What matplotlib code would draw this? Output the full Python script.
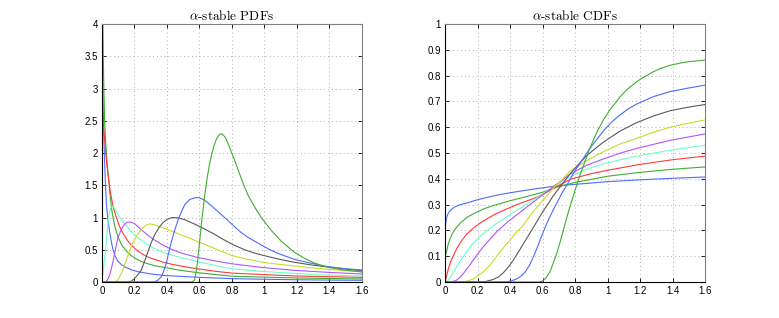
import matplotlib
matplotlib.use("Agg")
import matplotlib.pyplot as plt
from matplotlib.ticker import FuncFormatter

# curve colours, in order of increasing alpha
colors = ["#4f6bff", "#3fae2f", "#ff3a3a", "#6affc8", "#b255ff",
          "#c8dc2a", "#5a5a5a", "#4f6bff", "#3fae2f"]

# ---- PDF values ----
pdf_x1 = [0.002, 0.006, 0.01, 0.015, 0.02, 0.027, 0.035, 0.047, 0.058, 0.068, 0.08, 0.098,
          0.12, 0.14, 0.18, 0.22, 0.3, 0.39, 0.5, 0.6, 0.8, 1.0, 1.2, 1.4, 1.6]
pdf_y1 = [3.4, 2.9, 2.4, 1.95, 1.6, 1.22, 1.0, 0.78, 0.62, 0.5, 0.41, 0.32,
          0.27, 0.235, 0.19, 0.16, 0.125, 0.1, 0.085, 0.072, 0.052, 0.042, 0.035, 0.03, 0.026]

pdf_x2 = [0.004, 0.008, 0.012, 0.0164, 0.022, 0.027, 0.034, 0.041, 0.05, 0.06, 0.07, 0.08,
          0.1, 0.12, 0.15, 0.18, 0.21, 0.24, 0.28, 0.32, 0.386, 0.45, 0.5, 0.59, 0.7, 0.8,
          1.0, 1.2, 1.4, 1.6]
pdf_y2 = [4.3, 3.5, 2.95, 2.5, 2.2, 2.0, 1.78, 1.6, 1.35, 1.12, 0.97, 0.85,
          0.69, 0.58, 0.48, 0.41, 0.36, 0.32, 0.285, 0.255, 0.225, 0.195, 0.175, 0.145, 0.115, 0.09,
          0.075, 0.063, 0.054, 0.047]

pdf_x3 = [0.0, 0.01, 0.02, 0.03, 0.045, 0.057, 0.07, 0.088, 0.105, 0.129, 0.155, 0.18, 0.21,
          0.242, 0.28, 0.324, 0.38, 0.43, 0.5, 0.59, 0.7, 0.8, 1.0, 1.2, 1.4, 1.6]
pdf_y3 = [2.6, 2.4, 2.1, 1.82, 1.5, 1.32, 1.15, 1.01, 0.88, 0.755, 0.65, 0.574, 0.5,
          0.444, 0.39, 0.35, 0.305, 0.275, 0.24, 0.205, 0.165, 0.138, 0.114, 0.093, 0.082, 0.072]

pdf_x4 = [0.0, 0.006, 0.012, 0.02, 0.028, 0.037, 0.045, 0.057, 0.07, 0.085, 0.098, 0.12, 0.14,
          0.16, 0.18, 0.21, 0.242, 0.28, 0.324, 0.37, 0.427, 0.5, 0.59, 0.7, 0.8, 0.98,
          1.185, 1.39, 1.6]
pdf_y4 = [0.0, 0.134, 0.28, 0.44, 0.67, 0.91, 1.07, 1.17, 1.17, 1.11, 1.05, 0.97, 0.9,
          0.84, 0.78, 0.71, 0.65, 0.58, 0.52, 0.465, 0.42, 0.37, 0.315, 0.255, 0.205, 0.165,
          0.134, 0.108, 0.093]

pdf_x5 = [0.0, 0.02, 0.03, 0.04, 0.05, 0.057, 0.068, 0.078, 0.088, 0.098, 0.113, 0.129, 0.145,
          0.16, 0.18, 0.2, 0.22, 0.242, 0.28, 0.324, 0.37, 0.427, 0.5, 0.59, 0.7, 0.806,
          0.98, 1.185, 1.39, 1.6]
pdf_y5 = [0.0, 0.0, 0.02, 0.06, 0.13, 0.2, 0.32, 0.44, 0.57, 0.68, 0.78, 0.86, 0.91,
          0.93, 0.925, 0.905, 0.86, 0.81, 0.73, 0.65, 0.58, 0.506, 0.44, 0.38, 0.325, 0.28,
          0.227, 0.18, 0.15, 0.124]

pdf_x6 = [0.0, 0.08, 0.1, 0.119, 0.135, 0.15, 0.165, 0.18, 0.195, 0.211, 0.226, 0.242, 0.26,
          0.283, 0.3, 0.324, 0.355, 0.386, 0.44, 0.488, 0.54, 0.59, 0.64, 0.693, 0.75, 0.806,
          0.9, 0.98, 1.083, 1.185, 1.288, 1.39, 1.5, 1.6]
pdf_y6 = [0.0, 0.0, 0.04, 0.134, 0.24, 0.34, 0.45, 0.55, 0.63, 0.7, 0.76, 0.81, 0.86,
          0.895, 0.9, 0.885, 0.86, 0.83, 0.78, 0.73, 0.68, 0.625, 0.575, 0.52, 0.46, 0.405,
          0.35, 0.31, 0.275, 0.248, 0.22, 0.196, 0.176, 0.16]

pdf_x7 = [0.0, 0.16, 0.18, 0.2, 0.22, 0.242, 0.262, 0.283, 0.303, 0.324, 0.35, 0.375, 0.4,
          0.43, 0.47, 0.51, 0.55, 0.59, 0.64, 0.693, 0.75, 0.806, 0.878, 0.93, 0.98, 1.083,
          1.185, 1.288, 1.39, 1.5, 1.6]
pdf_y7 = [0.0, 0.0, 0.01, 0.057, 0.11, 0.186, 0.32, 0.47, 0.61, 0.73, 0.84, 0.92, 0.97,
          1.0, 0.995, 0.965, 0.92, 0.875, 0.81, 0.74, 0.655, 0.58, 0.5, 0.455, 0.42, 0.357,
          0.305, 0.265, 0.233, 0.2, 0.176]

pdf_x8 = [0.0, 0.32, 0.34, 0.365, 0.38, 0.396, 0.41, 0.427, 0.447, 0.468, 0.49, 0.51, 0.54,
          0.578, 0.6, 0.63, 0.67, 0.71, 0.755, 0.806, 0.85, 0.9, 0.98, 1.03, 1.083, 1.185,
          1.288, 1.39, 1.5, 1.6]
pdf_y8 = [0.0, 0.0, 0.02, 0.08, 0.17, 0.29, 0.45, 0.625, 0.8, 0.96, 1.1, 1.2, 1.28,
          1.31, 1.305, 1.27, 1.19, 1.1, 1.0, 0.88, 0.78, 0.69, 0.574, 0.505, 0.444, 0.35,
          0.29, 0.238, 0.205, 0.186]

pdf_x9 = [0.0, 0.555, 0.57, 0.585, 0.6, 0.615, 0.63, 0.645, 0.66, 0.675, 0.69, 0.705, 0.72,
          0.737, 0.76, 0.788, 0.82, 0.849, 0.875, 0.9, 0.94, 0.98, 1.042, 1.104, 1.185, 1.24,
          1.288, 1.34, 1.39, 1.49, 1.6]
pdf_y9 = [0.0, 0.0, 0.03, 0.25, 0.6, 0.98, 1.3, 1.58, 1.8, 1.98, 2.12, 2.22, 2.28,
          2.3, 2.24, 2.07, 1.86, 1.66, 1.49, 1.34, 1.16, 1.0, 0.8, 0.63, 0.46, 0.375,
          0.315, 0.265, 0.227, 0.186, 0.155]

# ---- CDF values ----
cdf_x1 = [0.003, 0.008, 0.015, 0.025, 0.04, 0.06, 0.09, 0.133, 0.195, 0.27, 0.338, 0.44,
          0.544, 0.646, 0.75, 0.85, 1.0, 1.2, 1.4, 1.6]
cdf_y1 = [0.221, 0.245, 0.26, 0.272, 0.282, 0.291, 0.299, 0.306, 0.318, 0.33, 0.339, 0.35,
          0.36, 0.369, 0.376, 0.381, 0.389, 0.396, 0.402, 0.407]

cdf_x2 = [0.003, 0.01, 0.02, 0.031, 0.045, 0.06, 0.08, 0.1, 0.133, 0.18, 0.236, 0.3, 0.4,
          0.5, 0.6, 0.68, 0.8, 0.9, 1.0, 1.2, 1.4, 1.6]
cdf_y2 = [0.1, 0.12, 0.148, 0.168, 0.188, 0.203, 0.219, 0.232, 0.25, 0.266, 0.283, 0.297, 0.315,
          0.331, 0.348, 0.366, 0.386, 0.398, 0.41, 0.425, 0.437, 0.446]

cdf_x3 = [0.0, 0.005, 0.01, 0.02, 0.035, 0.05, 0.072, 0.1, 0.133, 0.17, 0.215, 0.26, 0.318,
          0.38, 0.441, 0.52, 0.6, 0.68, 0.77, 0.9, 1.0, 1.2, 1.4, 1.6]
cdf_y3 = [0.0, 0.012, 0.025, 0.05, 0.08, 0.1, 0.13, 0.158, 0.185, 0.207, 0.228, 0.246, 0.266,
          0.283, 0.3, 0.318, 0.338, 0.368, 0.398, 0.42, 0.433, 0.456, 0.474, 0.488]

cdf_x4 = [0.0, 0.01, 0.02, 0.035, 0.051, 0.07, 0.092, 0.133, 0.17, 0.215, 0.26, 0.318, 0.38,
          0.441, 0.51, 0.585, 0.667, 0.769, 0.87, 0.974, 1.08, 1.18, 1.385, 1.6]
cdf_y4 = [0.0, 0.002, 0.008, 0.02, 0.037, 0.058, 0.08, 0.117, 0.148, 0.176, 0.2, 0.227, 0.253,
          0.278, 0.305, 0.335, 0.37, 0.408, 0.437, 0.458, 0.474, 0.488, 0.511, 0.53]

cdf_x5 = [0.0, 0.03, 0.05, 0.07, 0.092, 0.113, 0.133, 0.155, 0.174, 0.2, 0.236, 0.28, 0.318,
          0.38, 0.441, 0.51, 0.585, 0.667, 0.769, 0.87, 0.974, 1.08, 1.18, 1.385, 1.6]
cdf_y5 = [0.0, 0.0, 0.002, 0.007, 0.018, 0.033, 0.05, 0.068, 0.085, 0.108, 0.137, 0.168, 0.195,
          0.23, 0.26, 0.294, 0.33, 0.37, 0.418, 0.452, 0.477, 0.5, 0.518, 0.549, 0.574]

cdf_x6 = [0.0, 0.08, 0.133, 0.174, 0.236, 0.28, 0.318, 0.36, 0.4, 0.44, 0.482, 0.53, 0.585,
          0.627, 0.667, 0.72, 0.769, 0.87, 0.974, 1.077, 1.18, 1.28, 1.385, 1.5, 1.6]
cdf_y6 = [0.0, 0.0, 0.003, 0.012, 0.04, 0.068, 0.1, 0.133, 0.163, 0.193, 0.221, 0.263, 0.305,
          0.335, 0.364, 0.397, 0.43, 0.47, 0.505, 0.535, 0.557, 0.58, 0.6, 0.616, 0.628]

cdf_x7 = [0.0, 0.2, 0.25, 0.297, 0.33, 0.359, 0.39, 0.42, 0.45, 0.482, 0.513, 0.544, 0.575,
          0.605, 0.636, 0.667, 0.7, 0.728, 0.77, 0.82, 0.872, 0.92, 0.974, 1.077, 1.18, 1.28,
          1.385, 1.5, 1.6]
cdf_y7 = [0.0, 0.0, 0.002, 0.01, 0.02, 0.036, 0.058, 0.085, 0.115, 0.148, 0.18, 0.212, 0.245,
          0.276, 0.305, 0.335, 0.362, 0.385, 0.42, 0.455, 0.49, 0.515, 0.542, 0.585, 0.618, 0.643,
          0.664, 0.678, 0.688]

cdf_x8 = [0.0, 0.33, 0.38, 0.41, 0.441, 0.47, 0.492, 0.52, 0.544, 0.565, 0.585, 0.605, 0.626,
          0.656, 0.687, 0.72, 0.749, 0.78, 0.8, 0.831, 0.862, 0.892, 0.93, 0.974, 1.025, 1.077,
          1.13, 1.18, 1.28, 1.385, 1.5, 1.6]
cdf_y8 = [0.0, 0.0, 0.001, 0.005, 0.012, 0.024, 0.038, 0.065, 0.098, 0.13, 0.163, 0.195, 0.227,
          0.267, 0.305, 0.345, 0.375, 0.41, 0.432, 0.46, 0.49, 0.518, 0.55, 0.585, 0.62, 0.648,
          0.672, 0.69, 0.718, 0.738, 0.752, 0.763]

cdf_x9 = [0.0, 0.58, 0.6, 0.62, 0.646, 0.667, 0.687, 0.708, 0.728, 0.749, 0.77, 0.79, 0.81,
          0.831, 0.86, 0.892, 0.93, 0.974, 1.015, 1.077, 1.118, 1.18, 1.22, 1.282, 1.323, 1.385,
          1.45, 1.5, 1.6]
cdf_y9 = [0.0, 0.0, 0.004, 0.015, 0.04, 0.075, 0.11, 0.155, 0.2, 0.25, 0.295, 0.335, 0.375,
          0.415, 0.465, 0.52, 0.575, 0.628, 0.668, 0.718, 0.745, 0.777, 0.793, 0.815, 0.827, 0.84,
          0.849, 0.854, 0.86]

pdf_x = [pdf_x1, pdf_x2, pdf_x3, pdf_x4, pdf_x5, pdf_x6, pdf_x7, pdf_x8, pdf_x9]
pdf_y = [pdf_y1, pdf_y2, pdf_y3, pdf_y4, pdf_y5, pdf_y6, pdf_y7, pdf_y8, pdf_y9]
cdf_x = [cdf_x1, cdf_x2, cdf_x3, cdf_x4, cdf_x5, cdf_x6, cdf_x7, cdf_x8, cdf_x9]
cdf_y = [cdf_y1, cdf_y2, cdf_y3, cdf_y4, cdf_y5, cdf_y6, cdf_y7, cdf_y8, cdf_y9]

x_ticks = [0, 0.2, 0.4, 0.6, 0.8, 1, 1.2, 1.4, 1.6]
pdf_yticks = [0, 0.5, 1, 1.5, 2, 2.5, 3, 3.5, 4]
cdf_yticks = [0, 0.1, 0.2, 0.3, 0.4, 0.5, 0.6, 0.7, 0.8, 0.9, 1]

plt.rcParams["mathtext.fontset"] = "cm"
plt.rcParams["font.family"] = ["Liberation Sans", "DejaVu Sans"]

fig = plt.figure(figsize=(7.79, 3.18), dpi=100)
ax1 = fig.add_axes([0.1309, 0.1132, 0.3338, 0.8113])
ax2 = fig.add_axes([0.5713, 0.1132, 0.3338, 0.8113])

fmt = FuncFormatter(lambda v, p: "%g" % v)


def style(ax, yticks, ylim, title):
    ax.set_xlim(0, 1.6)
    ax.set_ylim(*ylim)
    ax.set_xticks(x_ticks)
    ax.set_yticks(yticks)
    ax.xaxis.set_major_formatter(fmt)
    ax.yaxis.set_major_formatter(fmt)
    ax.grid(True, linestyle=(0, (1, 3)), color="#b0b0b0", linewidth=0.7)
    ax.tick_params(direction="in", top=True, right=True, length=3, width=0.6,
                   labelsize=7, pad=3)
    for s in ax.spines.values():
        s.set_linewidth(0.8)
    ax.spines["top"].set_color("#808080")
    ax.spines["right"].set_color("#808080")
    ax.set_title(title, fontsize=9.5, family="cmr10", pad=3)


for i in range(9):
    ax1.plot(pdf_x[i], pdf_y[i], color=colors[i], linewidth=0.8)
    ax2.plot(cdf_x[i], cdf_y[i], color=colors[i], linewidth=0.8)

style(ax1, pdf_yticks, (0, 4), r"$\alpha$-stable PDFs")
style(ax2, cdf_yticks, (0, 1), r"$\alpha$-stable CDFs")

fig.savefig("out.png", dpi=100)
